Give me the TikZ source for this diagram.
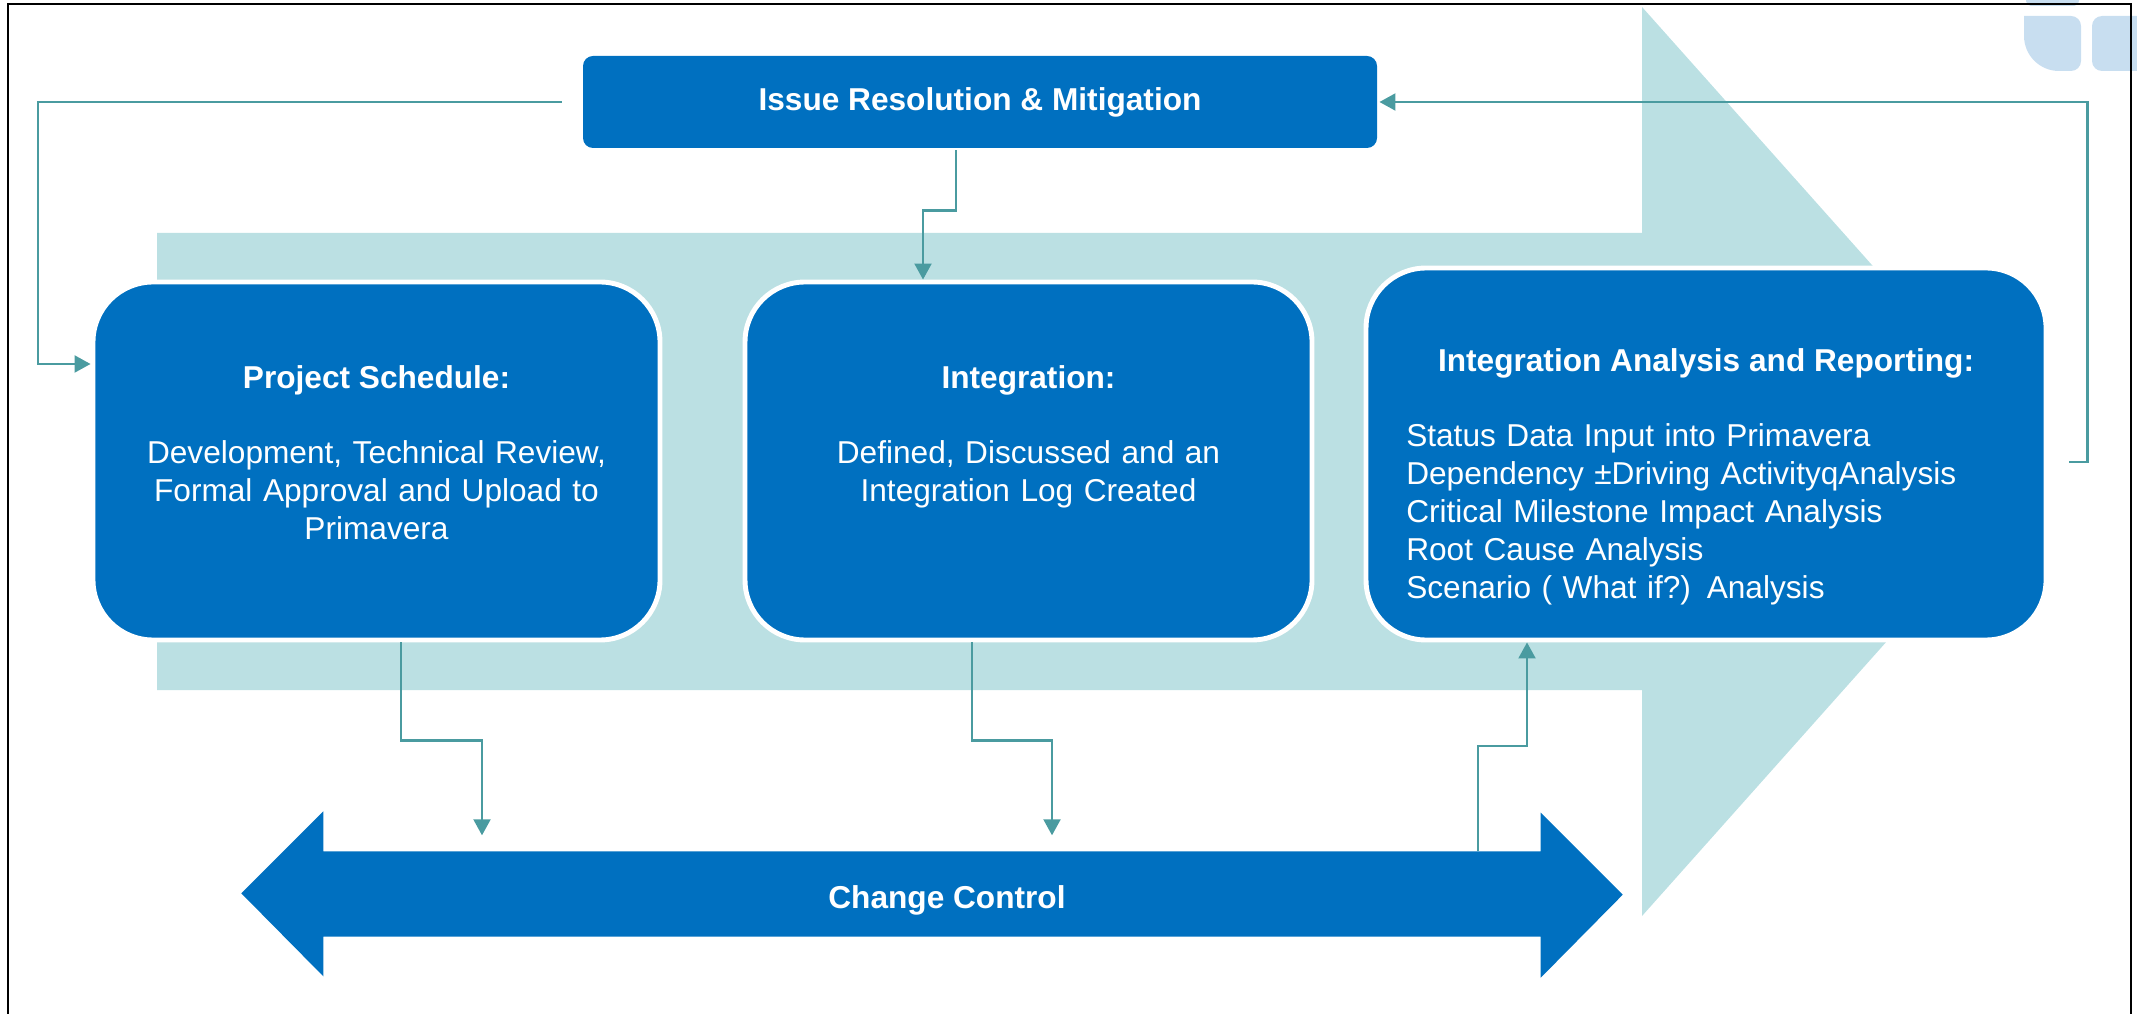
\documentclass[tikz,border=0pt]{standalone}
\usepackage{fontspec}
\setmainfont{Liberation Sans}
\usepackage{tikz}
\usetikzlibrary{positioning, calc, arrows.meta, backgrounds}

\definecolor{ccblue}{RGB}{0,112,192}
\definecolor{bandteal}{RGB}{187,224,227}
\definecolor{linkteal}{RGB}{74,155,160}
\definecolor{logoblue}{RGB}{200,222,240}

\begin{document}
\begin{tikzpicture}[on grid, >={Triangle[width=1.7mm,length=1.6mm]},
    stage/.style={draw=white, line width=1.4pt, fill=ccblue, rounded corners=0.6cm, inner sep=0},
    ttl/.style={text=white, inner sep=0, font=\fontsize{9}{10.8}\selectfont\bfseries},
    bodytxt/.style={text=white, inner sep=0, text width=5.6cm, align=center, font=\fontsize{9}{10.8}\selectfont},
    link/.style={draw=linkteal, line width=0.6pt}]
   \useasboundingbox (0,0) rectangle (21.37,-10.14);

   % 背景箭头
   \fill[bandteal] (1.57,-2.33) -- (16.42,-2.33) -- (16.42,-0.07) -- (20.47,-4.615)
        -- (16.42,-9.16) -- (16.42,-6.90) -- (1.57,-6.90) -- cycle;

   % 右上角色块
   \fill[logoblue, rounded corners=0.05cm] (20.26,0.3) rectangle (20.79,-0.06);
   \fill[logoblue] (20.24,-0.16) -- (20.71,-0.16) arc[start angle=90, end angle=0, radius=0.1]
        -- (20.81,-0.61) arc[start angle=0, end angle=-90, radius=0.1]
        -- (20.59,-0.71) arc[start angle=270, end angle=180, radius=0.35] -- cycle;
   \fill[logoblue, rounded corners=0.1cm] (20.92,-0.16) rectangle (21.60,-0.71);

   % 外框
   \draw[line width=0.7pt] (0.08,-10.14) |- (21.31,-0.04) -- (21.31,-10.14);

   % 定义节点
   \node[stage, draw=none, rounded corners=0.1cm, minimum width=7.94cm, minimum height=0.92cm, ttl]
        (iss) at (9.80,-1.02) {Issue Resolution \& Mitigation};
   \node[stage, minimum width=5.67cm, minimum height=3.58cm] (ps) at (3.765,-4.61) {};
   \node[stage, minimum width=5.67cm, minimum height=3.58cm] (intg) [right=6.52cm of ps] {};
   \node[stage, minimum width=6.80cm, minimum height=3.72cm] (iar) [right=6.775cm of intg, yshift=0.7mm] {};

   % 节点文字
   \node[ttl, anchor=base] (pstit) at ($(ps.north)+(0,-1.09)$) {Project Schedule:};
   \node[bodytxt, anchor=base] (psbody) at ($(ps.north)+(0,-1.84)$)
        {Development, Technical Review,\\Formal Approval and Upload to\\Primavera};
   \node[ttl, anchor=base] (intgtit) at ($(intg.north)+(0,-1.09)$) {Integration:};
   \node[bodytxt, anchor=base] (intgbody) at ($(intg.north)+(0,-1.84)$)
        {Defined, Discussed and an\\Integration Log Created};
   \node[ttl, anchor=base] (iartit) at ($(iar.north)+(0,-1.06)$) {Integration Analysis and Reporting:};
   \node[bodytxt, align=left, text width=6.2cm, anchor=base west] (iarbody) at ($(iar.north west)+(0.42,-1.81)$)
        {Status Data Input into Primavera\\Dependency ±Driving ActivityqAnalysis\\Critical Milestone Impact Analysis\\Root Cause Analysis\\Scenario ( What if?) Analysis};

   % 双向箭头
   \node[ttl, minimum width=12.16cm, minimum height=0.84cm, text height=0.36cm]
        (cc) at (9.32,-8.94) {\hspace{3mm}Change Control};
   \begin{pgfonlayer}{background}
   \fill[ccblue] (cc.north west) -- ++(0,0.40) -- ++(-0.82,-0.82) -- ++(0.82,-0.83) -- (cc.south west)
        -- (cc.south east) -- ++(0,-0.41) -- ++(0.82,0.83) -- ++(-0.82,0.82) -- (cc.north east) -- cycle;
   \end{pgfonlayer}

   % 连接线
   \coordinate (lftb) at (0.38,-3.64);
   \draw[link, ->, shorten <=1.9mm] (iss.west) -| (lftb) -- (lftb -| ps.west);
   \draw[link, ->, shorten <=2.1mm] ([yshift=-0.8mm]iar.east) -- ++(0.39,0) |- (iss.east);
   \draw[link, ->] ([xshift=-2.4mm]iss.south) -- ++(0,-0.6) -| ([xshift=-10.55mm]intg.north);
   \draw[link, ->, shorten >=1.6mm] ([xshift=2.45mm]ps.south) -- ++(0,-0.98) -| ([xshift=-4.5cm]cc.north);
   \draw[link, ->, shorten >=1.6mm] ([xshift=-5.65mm]intg.south) -- ++(0,-0.98) -| ([xshift=1.2cm]cc.north);
   \draw[link, ->] ([xshift=5.46cm]cc.north) -- ++(0,1.05) -| ([xshift=-1.79cm]iar.south);
\end{tikzpicture}
\end{document}
